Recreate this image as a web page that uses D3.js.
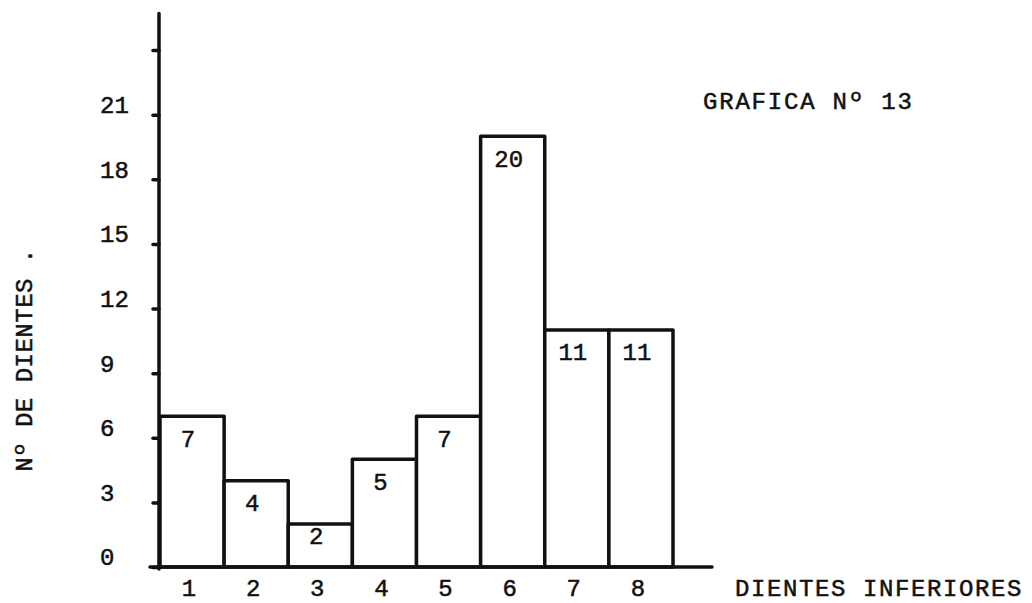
<!DOCTYPE html>
<html>
<head>
<meta charset="utf-8">
<script src="https://cdn.jsdelivr.net/npm/d3@7"></script>
<style>
  body { margin: 0; background: #fff; }
  text { font-family: "Liberation Mono", "DejaVu Sans Mono", monospace; fill: #111; stroke: #111; stroke-width: 0.5px; }
</style>
</head>
<body>
<div id="container"></div>
<script>
// data
var dientes = ["1", "2", "3", "4", "5", "6", "7", "8"]
var cantidad = [7, 4, 2, 5, 7, 20, 11, 11]
var yTicks = [0, 3, 6, 9, 12, 15, 18, 21, 24]
var yLabels = [0, 3, 6, 9, 12, 15, 18, 21]

function drawChart() {
  var width = 1032
  var height = 603
  var svg = d3.select("#container")
    .append("svg")
    .attr("width", width)
    .attr("height", height)

  var x = d3.scaleBand()
    .domain(dientes)
    .range([160, 673])
    .padding(0)

  var y = d3.scaleLinear()
    .domain([0, 24])
    .range([567, 50])

  var ink = "#111"
  var fontSize = 24

  // bars
  svg.append("g")
    .selectAll("rect")
    .data(cantidad)
    .enter()
    .append("rect")
    .attr("x", (d, i) => x(dientes[i]))
    .attr("y", (d) => y(d))
    .attr("width", x.bandwidth())
    .attr("height", (d) => y(0) - y(d))
    .style("fill", "#fff")
    .attr("stroke", ink)
    .style("stroke-width", 3.5)
    .style("stroke-linejoin", "round")

  // value labels inside the bars
  svg.append("g")
    .selectAll("text")
    .data(cantidad)
    .enter()
    .append("text")
    .attr("x", (d, i) => x(dientes[i]) + x.bandwidth() / 2 - 4)
    .attr("y", (d) => y(d) + Math.min(22, (y(0) - y(d)) / 3.6))
    .attr("dy", "0.35em")
    .attr("text-anchor", "middle")
    .style("font-size", fontSize + "px")
    .text((d) => d)

  // y axis: small tick marks, then the long line
  var yAxis = d3.axisLeft(y)
    .tickValues(yTicks)
    .tickSize(6)
    .tickFormat("")
  var gy = svg.append("g")
    .attr("transform", "translate(159,0)")
    .call(yAxis)
  gy.select(".domain").remove()
  gy.selectAll(".tick line")
    .attr("stroke", ink)
    .style("stroke-width", 3.5)
    .style("stroke-linecap", "round")

  svg.append("line")
    .attr("x1", 159).attr("x2", 159)
    .attr("y1", y(0) + 2).attr("y2", y(25.7))
    .attr("stroke", ink)
    .style("stroke-width", 3.5)
    .style("stroke-linecap", "round")

  // y tick labels (typed a bit above each mark)
  svg.append("g")
    .selectAll("text")
    .data(yLabels)
    .enter()
    .append("text")
    .attr("x", 100)
    .attr("y", (d) => y(d) - 10)
    .attr("dy", "0.35em")
    .style("font-size", fontSize + "px")
    .text((d) => d)

  // x axis line
  svg.append("line")
    .attr("x1", 150).attr("x2", 712)
    .attr("y1", y(0)).attr("y2", y(0))
    .attr("stroke", ink)
    .style("stroke-width", 3.5)
    .style("stroke-linecap", "round")

  // x tick labels
  svg.append("g")
    .selectAll("text")
    .data(dientes)
    .enter()
    .append("text")
    .attr("x", (d) => x(d) + x.bandwidth() / 2 - 3)
    .attr("y", 588)
    .attr("dy", "0.35em")
    .attr("text-anchor", "middle")
    .style("font-size", fontSize + "px")
    .text((d) => d)

  // titles
  svg.append("text")
    .attr("x", 703)
    .attr("y", 101)
    .attr("dy", "0.35em")
    .style("font-size", fontSize + "px")
    .style("letter-spacing", "1.8px")
    .text("GRAFICA Nº 13")

  svg.append("text")
    .attr("x", 735)
    .attr("y", 588)
    .attr("dy", "0.35em")
    .style("font-size", fontSize + "px")
    .style("letter-spacing", "1.6px")
    .text("DIENTES INFERIORES")

  svg.append("text")
    .attr("transform", "translate(24,360) rotate(-90)")
    .attr("dy", "0.35em")
    .attr("text-anchor", "middle")
    .style("font-size", fontSize + "px")
    .style("letter-spacing", "0.5px")
    .text("Nº DE DIENTES .")
}

drawChart()
</script>
</body>
</html>
